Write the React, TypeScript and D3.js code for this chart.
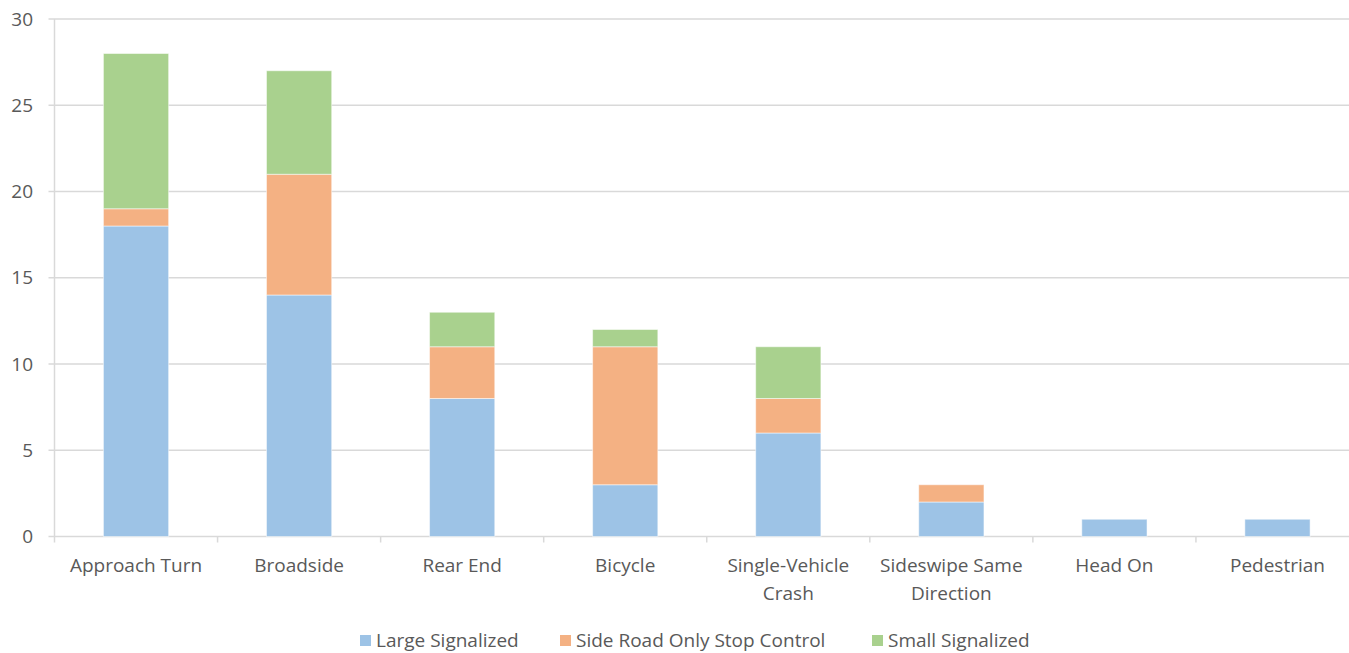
import React from "react";
import * as d3 from "d3";

const categories: string[][] = [
  ["Approach Turn"],
  ["Broadside"],
  ["Rear End"],
  ["Bicycle"],
  ["Single-Vehicle", "Crash"],
  ["Sideswipe Same", "Direction"],
  ["Head On"],
  ["Pedestrian"],
];
const seriesNames = ["Large Signalized", "Side Road Only Stop Control", "Small Signalized"];
const largeSignalized = [18, 14, 8, 3, 6, 2, 1, 1];
const sideRoadStop = [1, 7, 3, 8, 2, 1, 0, 0];
const smallSignalized = [9, 6, 2, 1, 3, 0, 0, 0];
const yTicks = [0, 5, 10, 15, 20, 25, 30];
const colors = ["#9DC3E6", "#F4B183", "#A9D18E"];

const W = 1349;
const H = 653;
const left = 54.5;
const right = 1359;
const top = 19;
const bottom = 536.5;
const font = "'Open Sans', sans-serif";
const textColor = "#595959";

export default function App() {
  const keys = categories.map((c) => c.join(" "));
  const x = d3.scaleBand<string>().domain(keys).range([left, right]).paddingInner(0.6).paddingOuter(0.3);
  const y = d3.scaleLinear().domain([0, 30]).range([bottom, top]);
  const rows = keys.map((k, i) => ({ key: k, s0: largeSignalized[i], s1: sideRoadStop[i], s2: smallSignalized[i] }));
  const stack = d3.stack<any>().keys(["s0", "s1", "s2"]);
  const layers = stack(rows);
  const step = x.step();
  const legendX = [376, 576, 888];

  return (
    <svg width={W} height={H} style={{ position: "absolute", left: 0, top: 0 }}>
      <rect width={W} height={H} fill="#fff" />
      {yTicks.map((t) => (
        <g key={t}>
          <line x1={left - 6} x2={right} y1={y(t)} y2={y(t)} stroke="#D9D9D9" strokeWidth={1.5} />
          <text x={33} y={y(t)} dy="0.35em" textAnchor="end" fontFamily={font} fontSize={19} fill={textColor}>
            {t}
          </text>
        </g>
      ))}
      <line x1={left} x2={left} y1={top} y2={bottom + 6} stroke="#D9D9D9" strokeWidth={1.5} />
      {keys.map((k, i) => (
        <line key={k} x1={left + step * (i + 1)} x2={left + step * (i + 1)} y1={bottom} y2={bottom + 6} stroke="#D9D9D9" strokeWidth={1.5} />
      ))}
      {layers.map((layer, li) =>
        layer.map((d, i) =>
          d[1] - d[0] > 0 ? (
            <rect
              key={`${li}-${i}`}
              x={x(keys[i])}
              width={x.bandwidth()}
              y={y(d[1])}
              height={y(d[0]) - y(d[1])}
              fill={colors[li]}
              stroke="#ffffff"
              strokeOpacity={0.5}
              strokeWidth={1}
            />
          ) : null
        )
      )}
      {categories.map((lines, i) => (
        <text key={i} textAnchor="middle" fontFamily={font} fontSize={19} fill={textColor}>
          {lines.map((l, j) => (
            <tspan key={j} x={(x(keys[i]) as number) + x.bandwidth() / 2} y={572 + j * 28}>
              {l}
            </tspan>
          ))}
        </text>
      ))}
      {seriesNames.map((n, i) => (
        <g key={n}>
          <rect x={legendX[i] - 16} y={635} width={11} height={11} fill={colors[i]} />
          <text x={legendX[i]} y={647} fontFamily={font} fontSize={19} fill={textColor}>
            {n}
          </text>
        </g>
      ))}
    </svg>
  );
}
